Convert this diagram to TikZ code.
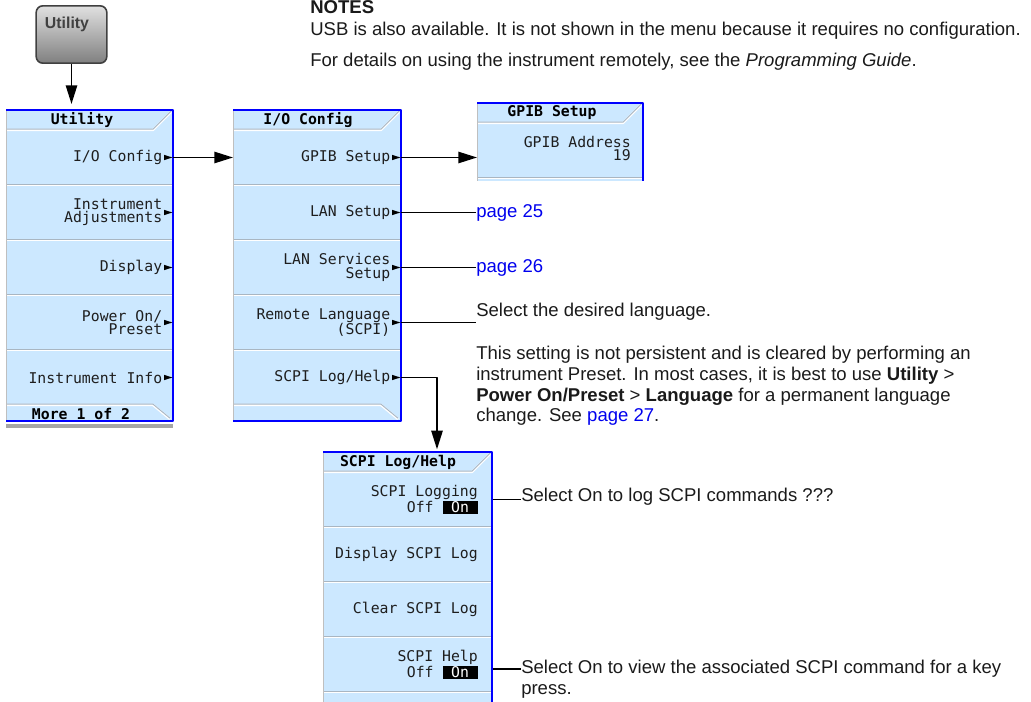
\documentclass[tikz,border=0pt]{standalone}
\usepackage{xcolor}
\usepackage{fontspec}
\setmainfont{Liberation Sans}
\newfontfamily\keyfont{DejaVu Sans Mono}
\usetikzlibrary{positioning,shapes.geometric,arrows.meta}

\definecolor{keyblue}{HTML}{CCE8FF}
\definecolor{frameblue}{HTML}{0000FF}
\definecolor{sepgray}{HTML}{A9B6C2}
\definecolor{keyink}{HTML}{1E1E1E}
\definecolor{noteink}{HTML}{1A1A1A}
\definecolor{linkblue}{HTML}{0000EE}

\setlength{\fboxsep}{0.7pt}
\newcommand{\onswitch}{\colorbox{black}{\makebox[25pt]{\textcolor{white}{On}}}}

\tikzset{
  klabel/.style={font=\keyfont\fontsize{11.1pt}{9.9pt}\selectfont,text=keyink,align=right,inner sep=0pt},
  ktitle/.style={font=\keyfont\bfseries\fontsize{11.1pt}{10pt}\selectfont,text=black,inner sep=0pt},
  ktri/.style={isosceles triangle,isosceles triangle stretches,minimum width=4pt,minimum height=6.2pt,inner sep=0pt,fill=black},
  note/.style={font=\fontsize{13.9pt}{15.5pt}\selectfont,text=noteink,align=left,inner sep=0pt},
  hardkey/.style={rounded corners=5pt,draw=black!75,line width=1.2pt,top color=black!12,bottom color=black!50,minimum width=53pt,minimum height=43pt},
  link/.style={line width=1.2pt},
  arr/.style={link,-{Triangle[length=14pt,width=8.5pt]}},
}

% softkey panel: name, left, top, width, number of keys (all in px)
\newcommand{\menuframe}[5]{%
  \pgfmathsetmacro{\mfbot}{#3+36+55*#5}%
  \pgfmathsetmacro{\mfright}{#2+#4}%
  \pgfmathtruncatemacro{\mflast}{#5-1}%
  \fill[keyblue] (#2,#3) rectangle (\mfright,\mfbot);
  \foreach \lc/\lw/\ls in {white/1.8pt/0pt,sepgray/0.7pt/0.6pt}{
    \draw[\lc,line width=\lw,yshift=\ls] (#2,#3+20) -- (\mfright-20,#3+20) -- (\mfright-2,#3+2);
    \foreach \k in {1,...,\mflast}
      \draw[\lc,line width=\lw,yshift=\ls] (#2,#3+20+55*\k) -- (\mfright,#3+20+55*\k);
    \draw[\lc,line width=\lw,yshift=\ls] (#2,#3+20+55*#5) -- (\mfright-20,#3+20+55*#5) -- (\mfright-3,\mfbot-2);
  }
  \draw[black!25,line width=0.75pt] (#2,#3) -- (#2,\mfbot);
  \draw[frameblue,line width=2pt] (#2,#3) -- (\mfright,#3) -- (\mfright,\mfbot) -- (#2,\mfbot);
  \node[inner sep=0pt,minimum width=#4*0.75pt,minimum height=(\mfbot-#3)*0.75pt,anchor=north west] (#1) at (#2,#3) {};
}

\begin{document}
\begin{tikzpicture}[x=0.75pt,y=-0.75pt,line join=round]
\useasboundingbox (0,0) rectangle (1031,702);
\clip (0,0) rectangle (1031,702);

% front panel key
\node[hardkey] (utilkey) at (71.5,34.5) {};
\node[font=\bfseries\fontsize{11.9pt}{12pt}\selectfont,text=black!75,inner sep=0pt] (utilname) at (67,24) {Utility};

% menus
\menuframe{utilmenu}{6}{110}{167}{5}
\fill[black!35] (6,424) rectangle (173,428);
\menuframe{iomenu}{233}{110}{168}{5}
\begin{scope}
  \clip (470,90) rectangle (650,181);
  \menuframe{gpibmenu}{477}{103}{166}{2}
\end{scope}
\menuframe{scpimenu}{323}{452}{169}{5}

\node[ktitle] (utiltitle) at (82,120) {Utility};
\node[ktitle] (umore) at (81,413.5) {More 1 of 2};
\node[ktitle] (iotitle) at (308,120) {I/O Config};
\node[ktitle] (gpibtitle) at (552,112.5) {GPIB Setup};
\node[ktitle] (scpititle) at (398,462) {SCPI Log/Help};

\foreach \nm/\yy/\txt in {uIO/157.5/{I/O Config},uAdj/212.5/{Instrument\\Adjustments},
    uDisp/267.5/{Display},uPow/322.5/{Power On/\\Preset},uInfo/377.5/{Instrument Info}}{
  \node[ktri] (\nm t) at (166,\yy) {};
  \node[klabel,left=1pt of \nm t.west] (\nm) {\txt};
}
\foreach \nm/\yy/\txt in {iGPIB/157.5/{GPIB Setup},iLAN/212.5/{LAN Setup},
    iServ/267.5/{LAN Services\\Setup},iRem/322.5/{Remote Language\\(SCPI)},iLog/377.5/{SCPI Log/Help}}{
  \node[ktri] (\nm t) at (394,\yy) {};
  \node[klabel,left=1pt of \nm t.west] (\nm) {\txt};
}
\node[klabel,anchor=east] (gaddr) at (631,148.5) {GPIB Address\\19};
\node[klabel,anchor=east] (slog) at (478,499.5) {SCPI Logging\\Off \onswitch};
\node[klabel,anchor=east] (sdisp) at (478,554.5) {Display SCPI Log};
\node[klabel,anchor=east] (sclear) at (478,609.5) {Clear SCPI Log};
\node[klabel,anchor=east] (shelp) at (478,664.5) {SCPI Help\\Off \onswitch};

% notes
\node[note,font=\bfseries\fontsize{13.9pt}{15.5pt}\selectfont,anchor=base west] (notehead) at (310,14) {NOTES};
\node[note,anchor=base west] (usbnote) at (310,35.5) {USB is also available. It is not shown in the menu because it requires no configuration.};
\node[note,anchor=base west] (docnote) at (310,67) {For details on using the instrument remotely, see the \textit{Programming Guide}.};
\node[note,text=linkblue,anchor=west] (lan25) at (476,212.5) {page 25};
\node[note,text=linkblue,anchor=west] (lan26) at (476,267.5) {page 26};
\node[note,anchor=base west] (langnote) at (476,316.5) {Select the desired language.};
\node[note,anchor=north west] (langpara) at (476,346) {This setting is not persistent and is cleared by performing an\\
  instrument Preset. In most cases, it is best to use \textbf{Utility} >\\
  \textbf{Power On/Preset} > \textbf{Language} for a permanent language\\
  change. See \textcolor{linkblue}{page 27}.};
\node[note,anchor=west] (lognote) at (521,497) {Select On to log SCPI commands ???};
\node[note,anchor=north west] (helpnote) at (521,660) {Select On to view the associated SCPI command for a key\\press.};

% connectors
\draw[arr,shorten >=4.5pt] (utilkey) -- (utilkey |- utilmenu.north);
\draw[arr] (uIOt.east) -- (uIOt.east -| iomenu.west);
\draw[arr] (iGPIBt.east) -- (iGPIBt.east -| gpibmenu.west);
\draw[link] (iLANt.east) -- (lan25.west);
\draw[link] (iServt.east) -- (lan26.west);
\draw[link] (iRemt.east) -- (iRemt.east -| langnote.west);
\draw[arr,shorten >=2pt] (iLogt.east) -| ([xshift=85.5pt]scpimenu.north west);
\draw[link] (scpimenu.east |- slog) -- (lognote.west |- slog);
\coordinate (helpy) at ([yshift=-3.4pt]shelp.east);
\draw[link] (scpimenu.east |- helpy) -- (helpnote.west |- helpy);
\end{tikzpicture}
\end{document}
